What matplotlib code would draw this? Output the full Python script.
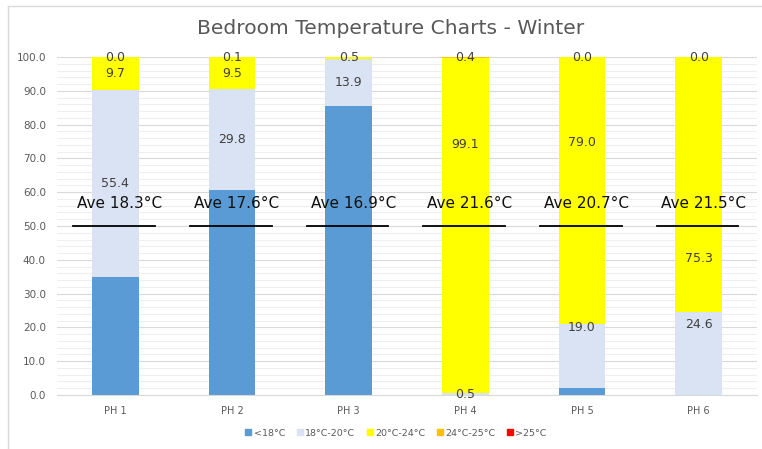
import numpy as np
import matplotlib
matplotlib.use('Agg')
import matplotlib.pyplot as plt
from matplotlib.lines import Line2D

# datos
houses = ['PH 1', 'PH 2', 'PH 3', 'PH 4', 'PH 5', 'PH 6']
below_18 = [34.9, 60.6, 85.6, 0.0, 2.0, 0.0]
r18_20 = [55.4, 29.8, 13.9, 0.5, 19.0, 24.6]
r20_24 = [9.7, 9.5, 0.5, 99.1, 79.0, 75.3]
r24_25 = [0.0, 0.1, 0.0, 0.4, 0.0, 0.0]
above_25 = [0.0, 0.0, 0.0, 0.0, 0.0, 0.0]
ave_temp = ['18.3', '17.6', '16.9', '21.6', '20.7', '21.5']

series = [
    ('<18°C', below_18, '#5B9BD5', False),
    ('18°C-20°C', r18_20, '#DAE3F3', True),
    ('20°C-24°C', r20_24, '#FFFF00', True),
    ('24°C-25°C', r24_25, '#FFC000', True),
    ('>25°C', above_25, '#FF0000', False),
]

# etiquetas movidas a mano en el original (serie, casa) -> y
label_moved = {(2, 3): 74.0, (1, 4): 20.0, (2, 4): 74.6, (1, 5): 21.0, (2, 5): 40.5}
label_hidden = {(3, 2)}

fig = plt.figure(figsize=(7.62, 4.49), dpi=100)
ax = fig.add_axes([0.0748, 0.1203, 0.9186, 0.7527])

x = np.arange(len(houses))
bottom = np.zeros(len(houses))
for si, (name, vals, col, show) in enumerate(series):
    vals = np.array(vals)
    ax.bar(x, vals, 0.4, bottom=bottom, color=col, label=name, zorder=2)
    if show:
        for i in range(len(houses)):
            if (si, i) in label_hidden:
                continue
            y = label_moved.get((si, i), bottom[i] + vals[i] / 2)
            ax.text(x[i], y, f'{vals[i]:.1f}', ha='center', va='center',
                    fontsize=9, color='#404040', zorder=4)
    bottom += vals

# lineas de 50% y temperatura media
for i in range(len(houses)):
    ax.plot([x[i] - 0.36, x[i] + 0.34], [50, 50], color='black', lw=1.3, zorder=3)
    ax.text(x[i] + 0.04, 56.8, f'Ave {ave_temp[i]}°C', ha='center', va='center',
            fontsize=11, color='#111111', zorder=4)

ax.set_xlim(-0.5, len(houses) - 0.5)
ax.set_ylim(0, 100)
ax.set_yticks(np.arange(0, 101, 10))
ax.set_yticklabels([f'{v:.1f}' for v in np.arange(0, 101, 10)])
ax.set_yticks(np.arange(0, 101, 2), minor=True)
ax.set_xticks(x)
ax.set_xticklabels(houses)
ax.tick_params(axis='y', which='both', length=0, labelsize=7.5, labelcolor='#595959', pad=8)
ax.tick_params(axis='x', length=0, labelsize=7, labelcolor='#595959', pad=8)
ax.grid(axis='y', which='major', color='#d9d9d9', lw=0.8, zorder=0)
ax.grid(axis='y', which='minor', color='#efefef', lw=0.8, zorder=0)
ax.set_axisbelow(True)
for s in ['top', 'right', 'left']:
    ax.spines[s].set_visible(False)
ax.spines['bottom'].set_color('#d9d9d9')

fig.text(0.513, 0.937, 'Bedroom Temperature Charts - Winter', ha='center', va='center',
         fontsize=14.6, color='#595959')

handles = [Line2D([], [], marker='s', ls='', color=c, markersize=5) for _, _, c, _ in series]
fig.legend(handles, [s[0] for s in series], loc='center', bbox_to_anchor=(0.518, 0.035),
           ncol=5, frameon=False, fontsize=6.8, labelcolor='#595959',
           handletextpad=0.0, columnspacing=0.9, handlelength=1.2)

# marco del grafico
fig.add_artist(Line2D([8 / 762, 1], [1 - 6 / 449, 1 - 6 / 449], color='#d9d9d9', lw=1))
fig.add_artist(Line2D([8 / 762, 8 / 762], [0, 1 - 6 / 449], color='#d9d9d9', lw=1))

fig.savefig('out.png', dpi=100)
